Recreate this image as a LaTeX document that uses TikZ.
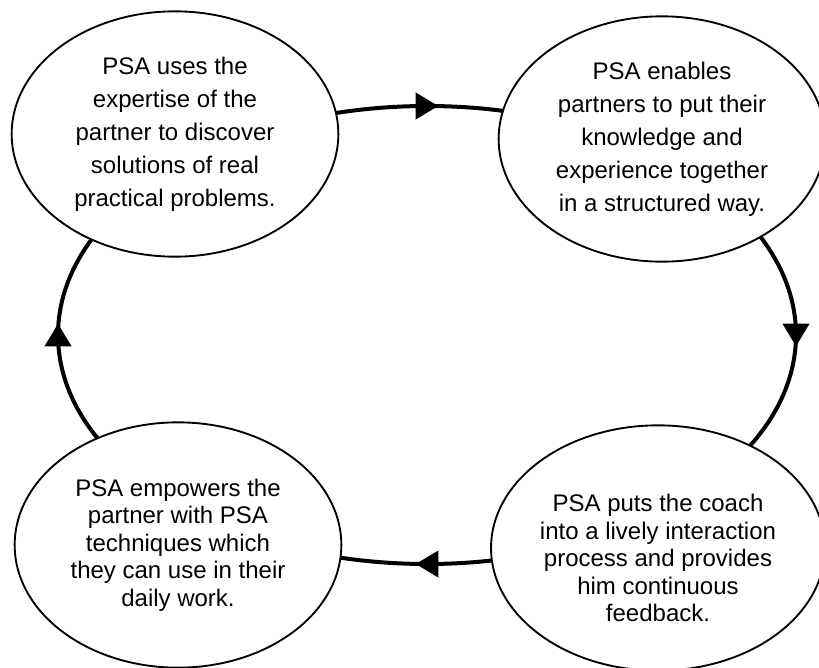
\documentclass[tikz,border=0pt]{standalone}
\usepackage{fontspec}
\setmainfont{Liberation Sans}
\usetikzlibrary{arrows.meta,shapes.geometric,decorations.markings}

\begin{document}
\begin{tikzpicture}[x=0.75pt, y=-0.75pt,
    cycletip/.tip={Triangle[length=17pt, width=19.5pt]},
    bubble/.style={ellipse, draw, line width=1.4pt, fill=white, align=center,
      inner sep=0pt, minimum width=245pt, minimum height=184pt},
    toptext/.style={font=\fontsize{18}{24.75}\selectfont},
    lowtext/.style={font=\fontsize{18}{20.6}\selectfont},
    cycleline/.style={line width=3pt, postaction={decorate},
      decoration={markings,
        mark=at position 0 with {\pgftransformxshift{8.5pt}\arrow{cycletip}},
        mark=at position 0.25 with {\pgftransformxshift{8.5pt}\arrow{cycletip}},
        mark=at position 0.5 with {\pgftransformxshift{8.5pt}\arrow{cycletip}},
        mark=at position 0.75 with {\pgftransformxshift{8.5pt}\arrow{cycletip}}}}]
  \useasboundingbox (0,0) rectangle (819,668);
  % the cycle behind the four steps
  \draw[cycleline] (427,335) ellipse (369 and 229);
  % four steps, clockwise from top left
  \node[bubble, toptext] (expertise) at (175,134) {PSA uses the\\expertise of the\\partner to discover\\solutions of real\\practical problems.};
  \node[bubble, toptext] (partners) at (662,139) {PSA enables\\partners to put their\\knowledge and\\experience together\\in a structured way.};
  \node[bubble, lowtext, text height=110.5pt] (coach) at (658,548) {PSA puts the coach\\into a lively interaction\\process and provides\\him continuous\\feedback.};
  \node[bubble, lowtext] (empower) at (178,545) {PSA empowers the\\partner with PSA\\techniques which\\they can use in their\\daily work.};
\end{tikzpicture}
\end{document}
